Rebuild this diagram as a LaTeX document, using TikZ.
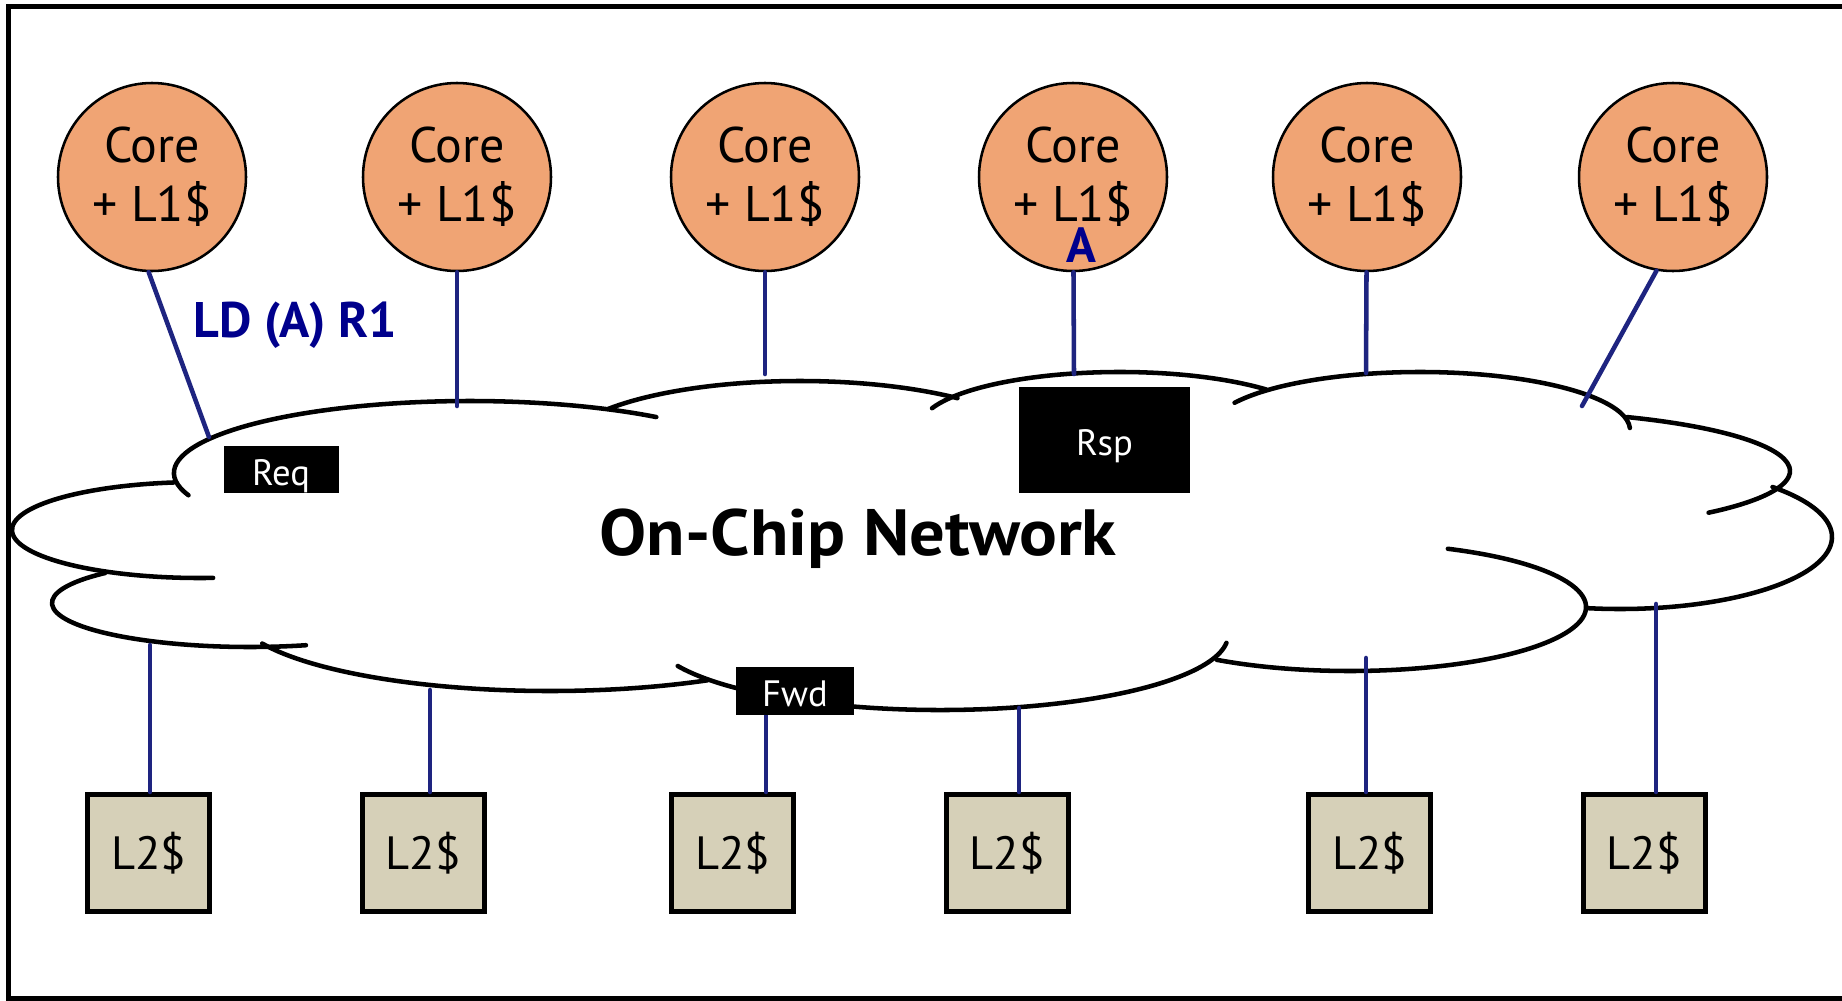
\documentclass[tikz,border=0pt]{standalone}
\usepackage{fontspec}
\setmainfont{PT Sans}
\newfontfamily\titlefont{PT Sans}[FakeStretch=1.08]

\definecolor{corefill}{RGB}{240,164,116}
\definecolor{cachefill}{RGB}{214,208,184}
\definecolor{linkblue}{RGB}{30,36,128}
\definecolor{msgblue}{RGB}{0,0,140}

\tikzset{every picture/.style={line width=0.75pt},
  core/.style={circle,draw,line width=1.9pt,fill=corefill,minimum size=141pt,inner sep=0pt,
    align=center,font=\fontsize{37.5}{44}\selectfont},
  cache/.style={rectangle,draw,line width=3.75pt,fill=cachefill,minimum width=91.5pt,
    minimum height=87.75pt,inner sep=0pt,font=\fontsize{35}{42}\selectfont},
  tag/.style={rectangle,fill=black,text=white,inner sep=0pt,text height=23.5pt,text depth=0pt,
    font=\fontsize{27.5}{33}\selectfont},
  link/.style={draw=linkblue,line width=3.4pt,line cap=round},
  puff/.style={line width=3.4pt,line cap=round},
}

\begin{document}
\begin{tikzpicture}[x=0.75pt,y=0.75pt,yscale=-1,xscale=1]
\useasboundingbox (0,0) rectangle (1842,1000);
\fill[white] (0,0) rectangle (1842,1000);

%Shape: Frame (open on the right)
\draw[line width=3.75pt] (1842,6) -- (8,6) -- (8,998) -- (1842,998);

%Curve Lines: cloud outline, one elliptic lobe per path
\draw[puff] ([shift={(262:188 and 48)}]200,530) arc[start angle=262,end angle=86,x radius=188,y radius=48];
\draw[puff] ([shift={(162:296 and 72)}]470,473) arc[start angle=162,end angle=309,x radius=296,y radius=72];
\draw[puff] ([shift={(217:240 and 70)}]800,451) arc[start angle=217,end angle=311,x radius=240,y radius=70];
\draw[puff] ([shift={(200:200 and 55)}]1120,427) arc[start angle=200,end angle=317,x radius=200,y radius=55];
\draw[puff] ([shift={(208:210 and 58)}]1420,430) arc[start angle=208,end angle=358,x radius=210,y radius=58];
\draw[puff] ([shift={(296:290 and 60)}]1500,471) arc[start angle=296,end angle=404,x radius=290,y radius=60];
\draw[puff] ([shift={(316:212 and 72)}]1620,537) arc[start angle=316,end angle=459,x radius=212,y radius=72];
\draw[puff] ([shift={(294.5:236 and 64)}]1350,607) arc[start angle=294.5,end angle=484.4,x radius=236,y radius=64];
\draw[puff] ([shift={(155.6:288 and 75)}]940,635) arc[start angle=155.6,end angle=6,x radius=288,y radius=75];
\draw[puff] ([shift={(156:315 and 80)}]550,611) arc[start angle=156,end angle=60,x radius=315,y radius=80];
\draw[puff] ([shift={(223:198 and 44)}]250,603) arc[start angle=223,end angle=73.6,x radius=198,y radius=44];

%Shape: Cores
\node[core] (core1) at (152,177) {Core\\+ L1\$};
\node[core] (core2) at (457,177) {Core\\+ L1\$};
\node[core] (core3) at (765,177) {Core\\+ L1\$};
\node[core] (core4) at (1073,177) {Core\\+ L1\$};
\node[core] (core5) at (1367,177) {Core\\+ L1\$};
\node[core] (core6) at (1673,177) {Core\\+ L1\$};

%Shape: L2 banks
\node[cache] (bank1) at (148.5,853) {L2\$};
\node[cache] (bank2) at (423,853) {L2\$};
\node[cache] (bank3) at (732.5,853) {L2\$};
\node[cache] (bank4) at (1007,853) {L2\$};
\node[cache] (bank5) at (1369.5,853) {L2\$};
\node[cache] (bank6) at (1644,853) {L2\$};

% attach points on the cloud
\coordinate (up1) at (209,437);
\coordinate (up2) at (457,406);
\coordinate (up3) at (765,374);
\coordinate (up4) at (1074,374);
\coordinate (up5) at (1366,373);
\coordinate (up6) at (1582,406);
\coordinate (dn1) at (150,645);
\coordinate (dn2) at (430,690);
\coordinate (dn3) at (766,715);
\coordinate (dn4) at (1019,708);
\coordinate (dn5) at (1366,658);
\coordinate (dn6) at (1656,604);

%Straight Lines: core links
\draw[link] (core1.268) -- (up1);
\draw[link] (core2) -- (up2);
\draw[link] (core3) -- (up3);
\draw[link] (core4) -- (up4);
\draw[link] (core5) -- (up5);
\draw[link] (core6.260) -- (up6);

%Straight Lines: bank links
\draw[link] (dn1) -- (dn1 |- bank1.north);
\draw[link] (dn2) -- (dn2 |- bank2.north);
\draw[link] (dn3) -- (dn3 |- bank3.north);
\draw[link] (dn4) -- (dn4 |- bank4.north);
\draw[link] (dn5) -- (dn5 |- bank5.north);
\draw[link] (dn6) -- (dn6 |- bank6.north);

% Message classes
\node[tag,minimum width=86.25pt,minimum height=35.25pt] (req) at (281,469.5) {Req};
\node[tag,minimum width=128.25pt,minimum height=79.5pt] (rsp) at (1104.5,440) {Rsp};
\node[tag,minimum width=88.5pt,minimum height=36pt] (fwd) at (795,691) {Fwd};

% Text Node
\node[anchor=base,font=\titlefont\bfseries\fontsize{49}{58}\selectfont] (noc) at (858,555) {On-Chip Network};
% Text Node
\node[anchor=base,text=msgblue,font=\bfseries\fontsize{37.5}{45}\selectfont] (ldmsg) at (295,337) {LD (A) R1};
% Text Node
\node[anchor=base,text=msgblue,font=\bfseries\fontsize{37}{44}\selectfont] (addr) at (1081,262) {A};

\end{tikzpicture}
\end{document}
